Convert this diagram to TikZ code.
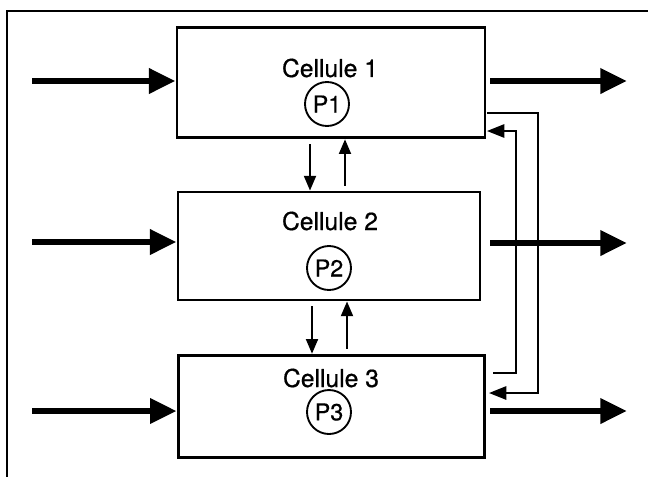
\documentclass[tikz,border=0pt]{standalone}
\usepackage{fontspec}
\setmainfont{TeX Gyre Heros}[FakeBold=0.6]
\usetikzlibrary{arrows.meta}
\begin{document}
\begin{tikzpicture}[x=0.75pt,y=-0.75pt,
  cellbox/.style={draw,line width=2.2pt,rectangle,inner sep=0pt},
  pcirc/.style={draw,line width=1.4pt,circle,inner sep=0pt,minimum size=33pt,font=\fontsize{17.5}{17.5}\selectfont},
  celltxt/.style={font=\fontsize{18.5}{18.5}\selectfont,inner sep=0pt},
  bigarrow/.style={line width=5pt,-{Triangle[length=20pt,width=18pt]}},
  smallarrow/.style={line width=1.4pt,-{Triangle[length=11pt,width=9pt]}},
  fbarrow/.style={line width=1.4pt,-{Triangle[length=13pt,width=10pt]}}]
\useasboundingbox (0,0) rectangle (648,476);
\draw[line width=1.5pt] (7,490) -- (7,11) -- (660,11);
% boxes
\node[cellbox,minimum width=231pt,minimum height=83pt] (b1) at (331,82.5) {};
\node[cellbox,minimum width=226.5pt,minimum height=81pt] (b2) at (329,246) {};
\node[cellbox,minimum width=230pt,minimum height=77pt] (b3) at (331.5,406.5) {};
% texts
\node[celltxt] (t1) at (330,68) {Cellule 1};
\node[pcirc] (p1) at (327,104) {P1};
\node[celltxt] (t2) at (330,221) {Cellule 2};
\node[pcirc] (p2) at (329,268) {P2};
\node[celltxt] (t3) at (331,378) {Cellule 3};
\node[pcirc] (p3) at (329,412) {P3};
% inputs
\coordinate (in1) at (32,81);
\coordinate (in2) at (32,242);
\coordinate (in3) at (32,411);
\draw[bigarrow] (in1) -- (in1 -| b1.west);
\draw[bigarrow] (in2) -- (in2 -| b2.west);
\draw[bigarrow] (in3) -- (in3 -| b3.west);
% outputs
\coordinate (o1s) at (490,81);
\coordinate (o1) at (627,81);
\coordinate (o2s) at (490,243);
\coordinate (o2) at (627,243);
\coordinate (o3s) at (490,411);
\coordinate (o3) at (627,411);
\draw[bigarrow] (o1s) -- (o1);
\draw[bigarrow] (o2s) -- (o2);
\draw[bigarrow] (o3s) -- (o3);
% vertical exchanges
\draw[smallarrow] (b1.south -| 310,0) ++(0,5) coordinate (d1s) -- (d1s |- b2.north);
\draw[smallarrow] (b2.north -| 345,0) ++(0,-5) coordinate (u1s) -- (u1s |- b1.south);
\draw[smallarrow] (b2.south -| 312,0) ++(0,5) coordinate (d2s) -- (d2s |- b3.north);
\draw[smallarrow] (b3.north -| 347,0) ++(0,-5) coordinate (u2s) -- (u2s |- b2.south);
% feedback loops
\coordinate (fa) at (487,113);
\coordinate (fae) at (489,393);
\draw[fbarrow] (fa) -- (538,113) -- (538,393) -- (fae);
\coordinate (fb) at (493,373);
\coordinate (fbe) at (487,131);
\draw[fbarrow] (fb) -- (516,373) -- (516,131) -- (fbe);
\end{tikzpicture}
\end{document}
